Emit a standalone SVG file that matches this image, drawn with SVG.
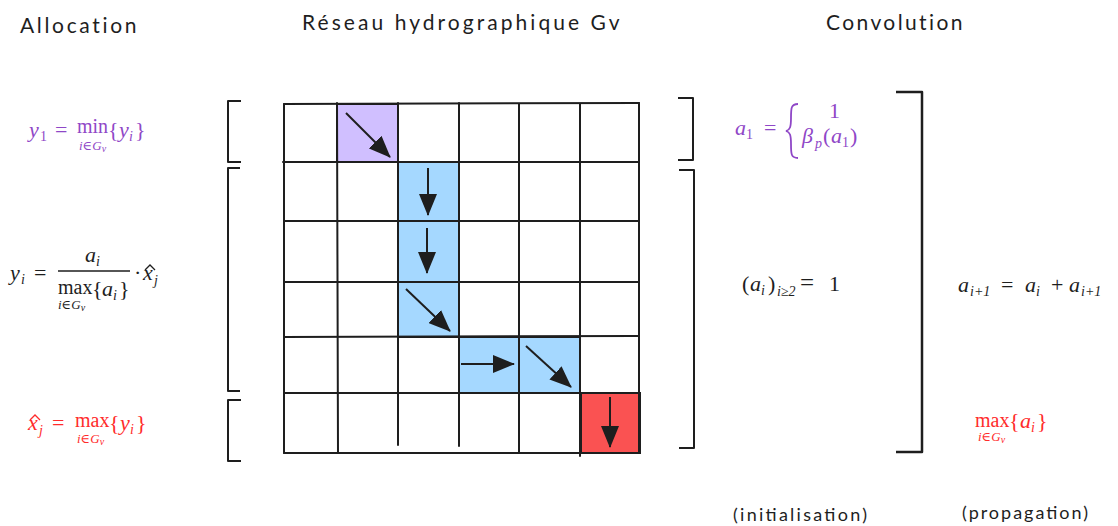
<svg xmlns="http://www.w3.org/2000/svg" width="1118" height="526" viewBox="0 0 1118 526">
<defs>
<style>
.title{font-family:"Lato","Open Sans",sans-serif;font-size:21px;fill:#1e1e1e;letter-spacing:0.5px}
.note{font-family:"Lato","Open Sans",sans-serif;font-size:18px;fill:#1e1e1e}
.m{font-family:"Liberation Serif","DejaVu Serif",serif;font-size:22px}
.i{font-style:italic}
.s{font-size:14px}
.u{font-size:13px;font-style:italic}
.f{font-size:20px}
.purple{fill:#8f47c7}
.red{fill:#ff2b2b}
.black{fill:#1e1e1e}
.grid line{stroke:#1e1e1e;stroke-width:2;stroke-linecap:round}
.br{fill:none;stroke:#1e1e1e;stroke-width:2;stroke-linejoin:round}
.arr{stroke:#1e1e1e;stroke-width:2;fill:none;marker-end:url(#ah)}
.cell{stroke:#1e1e1e;stroke-width:2}
.hat{fill:none;stroke-width:1.3}
</style>
<marker id="ah" viewBox="0 0 22 18" refX="21" refY="9" markerWidth="22" markerHeight="18" markerUnits="userSpaceOnUse" orient="auto">
<path d="M0,0 L22,9 L0,18 z" fill="#1e1e1e"/>
</marker>
</defs>
<rect width="1118" height="526" fill="#ffffff"/>

<g id="titles">
<text class="title" x="20" y="33" textLength="117">Allocation</text>
<text class="title" x="302" y="30" textLength="318">Réseau hydrographique Gv</text>
<text class="title" x="826" y="30" textLength="137">Convolution</text>
</g>

<g id="cells">
<g id="cell-purple"><rect class="cell" x="337" y="104" width="61" height="58" fill="#d0bfff"/></g>
<g id="cell-blue-1"><rect class="cell" x="398" y="162" width="61" height="59" fill="#a5d8ff"/></g>
<g id="cell-blue-2"><rect class="cell" x="398" y="221" width="61" height="61" fill="#a5d8ff"/></g>
<g id="cell-blue-3"><rect class="cell" x="398" y="282" width="61" height="55" fill="#a5d8ff"/></g>
<g id="cell-blue-4"><rect class="cell" x="459" y="337" width="60" height="56" fill="#a5d8ff"/></g>
<g id="cell-blue-5"><rect class="cell" x="519" y="337" width="61" height="56" fill="#a5d8ff"/></g>
<g id="cell-red"><rect class="cell" x="581" y="393" width="59" height="60" fill="#fa5252"/></g>
</g>

<g id="grid" class="grid">
<line x1="284" y1="104" x2="639" y2="103"/>
<line x1="283" y1="162" x2="638" y2="162"/>
<line x1="284" y1="221" x2="638" y2="221"/>
<line x1="284" y1="282" x2="638" y2="282"/>
<line x1="284" y1="337" x2="638" y2="336"/>
<line x1="284" y1="393" x2="638" y2="393"/>
<line x1="284" y1="453" x2="640" y2="453"/>
<line x1="284" y1="104" x2="284" y2="453"/>
<line x1="337" y1="103" x2="338" y2="453"/>
<line x1="398" y1="103" x2="398" y2="445"/>
<line x1="459" y1="103" x2="459" y2="446"/>
<line x1="519" y1="104" x2="519" y2="453"/>
<line x1="580" y1="104" x2="580" y2="456"/>
<line x1="639" y1="103" x2="639" y2="453"/>
</g>

<g id="brackets">
<path class="br" d="M241,101 L228,101 L228,162 L241,162"/>
<path class="br" d="M240,168 L228,168 L228,391 L240,391"/>
<path class="br" d="M241,400 L228,400 L228,461 L241,461"/>
<path class="br" d="M678,98 L693,98 L693,160 L678,160"/>
<path class="br" d="M679,170 L694,170 L694,448 L679,448"/>
<path class="br" d="M896,92 L922,92 L922,452 L896,452" style="stroke-width:2.5"/>
</g>

<g id="connectors">
<line class="arr" x1="346" y1="113" x2="390" y2="157"/>
<line class="arr" x1="428" y1="168" x2="428" y2="215"/>
<line class="arr" x1="427" y1="228" x2="427" y2="273"/>
<line class="arr" x1="406" y1="289" x2="450" y2="331"/>
<line class="arr" x1="461" y1="364" x2="514" y2="364"/>
<line class="arr" x1="526" y1="346" x2="571" y2="387"/>
<line class="arr" x1="610" y1="397" x2="610" y2="447"/>
</g>

<g id="formula-y1" class="purple">
<text class="m"><tspan class="i" x="29" y="137">y</tspan><tspan class="s" x="40" y="141">1</tspan><tspan x="55" y="137">=</tspan><tspan class="f" x="77" y="133">min</tspan><tspan x="108" y="137">{</tspan><tspan class="i" x="119" y="137">y</tspan><tspan class="s i" x="129" y="141">i</tspan><tspan x="135" y="137">}</tspan></text>
<text class="m u" x="79" y="150">i∈G<tspan font-size="10" dy="2">v</tspan></text>
</g>

<g id="formula-yi" class="black">
<text class="m"><tspan class="i" x="10" y="280">y</tspan><tspan class="s i" x="21" y="284">i</tspan><tspan x="34" y="280">=</tspan></text>
<text class="m"><tspan class="i" x="85" y="262">a</tspan><tspan class="s i" x="96" y="266">i</tspan></text>
<line x1="58" y1="271" x2="130" y2="271" stroke="#1e1e1e" stroke-width="1.3"/>
<text class="m"><tspan class="f" x="58" y="294">max</tspan><tspan x="92" y="296">{</tspan><tspan class="i" x="102" y="296">a</tspan><tspan class="s i" x="113" y="300">i</tspan><tspan x="119" y="296">}</tspan></text>
<text class="m u" x="58" y="309">i∈G<tspan font-size="10" dy="2">v</tspan></text>
<text class="m"><tspan x="134" y="280">·</tspan><tspan class="i" x="143" y="280">x</tspan><tspan class="s i" x="154" y="285">j</tspan></text>
<path class="hat" stroke="#1e1e1e" d="M145,270 L150,265 L155,270"/>
</g>

<g id="formula-xj" class="red">
<text class="m"><tspan class="i" x="28" y="430">x</tspan><tspan class="s i" x="39" y="435">j</tspan><tspan x="52" y="430">=</tspan><tspan class="f" x="75" y="427">max</tspan><tspan x="109" y="430">{</tspan><tspan class="i" x="120" y="430">y</tspan><tspan class="s i" x="130" y="434">i</tspan><tspan x="136" y="430">}</tspan></text>
<path class="hat" stroke="#ff2b2b" d="M30,420 L35,415 L40,420"/>
<text class="m u" x="77" y="443">i∈G<tspan font-size="10" dy="2">v</tspan></text>
</g>

<g id="formula-a1" class="purple">
<text class="m"><tspan class="i" x="735" y="135">a</tspan><tspan class="s" x="746" y="139">1</tspan><tspan x="764" y="135">=</tspan></text>
<path d="M798,104 C791,104 791,108 791,118 C791,127 790,130 786,131 C790,132 791,135 791,144 C791,154 791,158 798,158" fill="none" stroke="#8f47c7" stroke-width="1.8"/>
<text class="m" x="829" y="118">1</text>
<text class="m"><tspan class="i" x="802" y="143">β</tspan><tspan class="s i" x="815" y="148">p</tspan><tspan x="823" y="143">(</tspan><tspan class="i" x="831" y="143">a</tspan><tspan class="s" x="842" y="147">1</tspan><tspan x="850" y="143">)</tspan></text>
</g>

<g id="formula-init" class="black">
<text class="m"><tspan x="742" y="291">(</tspan><tspan class="i" x="750" y="291">a</tspan><tspan class="s i" x="761" y="295">i</tspan><tspan x="768" y="291">)</tspan><tspan class="s i" x="777" y="296">i≥2</tspan><tspan x="800" y="291" font-size="25">=</tspan><tspan x="829" y="291">1</tspan></text>
</g>

<g id="formula-prop" class="black">
<text class="m"><tspan class="i" x="958" y="292">a</tspan><tspan class="s i" x="970" y="296">i+1</tspan><tspan x="1001" y="292">=</tspan><tspan class="i" x="1025" y="292">a</tspan><tspan class="s i" x="1036" y="296">i</tspan><tspan x="1051" y="292">+</tspan><tspan class="i" x="1069" y="292">a</tspan><tspan class="s i" x="1081" y="296">i+1</tspan></text>
</g>

<g id="formula-max" class="red">
<text class="m"><tspan class="f" x="975" y="427">max</tspan><tspan x="1009" y="428">{</tspan><tspan class="i" x="1020" y="428">a</tspan><tspan class="s i" x="1031" y="432">i</tspan><tspan x="1037" y="428">}</tspan></text>
<text class="m u" x="978" y="441">i∈G<tspan font-size="10" dy="2">v</tspan></text>
</g>

<g id="labels">
<text class="note" x="733" y="521" textLength="134">(initialisation)</text>
<text class="note" x="962" y="519" textLength="126">(propagation)</text>
</g>
</svg>
